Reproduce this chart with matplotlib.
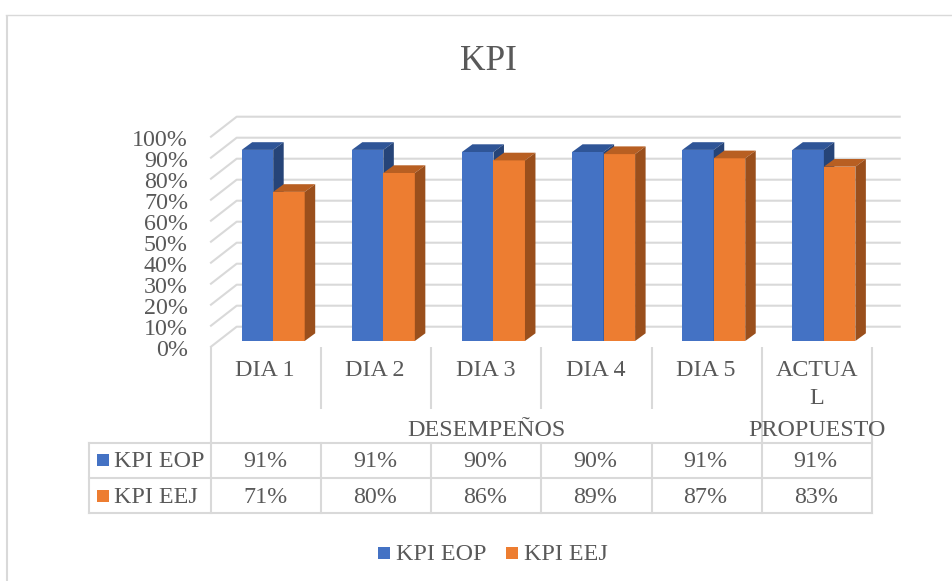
import matplotlib
matplotlib.use("Agg")
import matplotlib.pyplot as plt
from matplotlib.patches import Polygon, Rectangle

categories = ["DIA 1", "DIA 2", "DIA 3", "DIA 4", "DIA 5", "ACTUA\nL"]
groups = ["DESEMPEÑOS", "PROPUESTO"]
series_names = ["KPI EOP", "KPI EEJ"]
kpi_eop = [91, 91, 90, 90, 91, 91]
kpi_eej = [71, 80, 86, 89, 87, 83]
yticks = list(range(0, 101, 10))

W, H = 952, 581
plt.rcParams["font.family"] = ["Liberation Serif", "DejaVu Serif"]
TXT = "#595959"
GRID = "#D9D9D9"
BLUE, BLUE_TOP, BLUE_SIDE = "#4472C4", "#2F5597", "#264478"
ORG, ORG_TOP, ORG_SIDE = "#ED7D31", "#B85F22", "#9A4F1C"
FS = 17.3

fig = plt.figure(figsize=(W / 100, H / 100), dpi=100, facecolor="white")
# overlay in pixel coordinates for frame, table and legend
ov = fig.add_axes([0, 0, 1, 1], zorder=0)
ov.set_xlim(0, W); ov.set_ylim(H, 0); ov.axis("off")

L, R, B, T = 211.0, 871.8, 341.0, 131.0
ax = fig.add_axes([L / W, 1 - B / H, (R - L) / W, (B - T) / H], zorder=1)
ax.set_xlim(0, 6); ax.set_ylim(0, 100); ax.axis("off")
ux = (R - L) / 6; uy = (B - T) / 100

floor_front = -5.7 / uy      # the floor's front edge sits below the bars' base
wall_dx, wall_dy = 25.7 / ux, 14.3 / uy
bar_dx, bar_dy = 10.5 / ux, 7.7 / uy
wall_end = (899.7 - L) / ux
bar_w = 31.5 / ux
bar_off = 30.7 / ux

for v in yticks:
    ax.plot([0, wall_dx, wall_end], [v + floor_front, v + wall_dy, v + wall_dy], color=GRID, lw=1.5,
            clip_on=False, zorder=1, solid_joinstyle="round")
    ax.text(-23 / ux, v + floor_front - 9.3 / uy, f"{v}%", ha="right", va="baseline",
            fontsize=FS, color=TXT, clip_on=False)

def bar3d(x, v, front, top, side, z):
    ax.bar(x, v, bar_w, align="edge", color=front, zorder=z, clip_on=False)
    ax.add_patch(Polygon([(x, v), (x + bar_dx, v + bar_dy), (x + bar_w + bar_dx, v + bar_dy), (x + bar_w, v)],
                         closed=True, fc=top, ec="none", zorder=z, clip_on=False))
    ax.add_patch(Polygon([(x + bar_w, 0), (x + bar_w + bar_dx, bar_dy), (x + bar_w + bar_dx, v + bar_dy), (x + bar_w, v)],
                         closed=True, fc=side, ec="none", zorder=z, clip_on=False))

for i, (a, b) in enumerate(zip(kpi_eop, kpi_eej)):
    bar3d(i + bar_off, a, BLUE, BLUE_TOP, BLUE_SIDE, 3)
    bar3d(i + bar_off + bar_w, b, ORG, ORG_TOP, ORG_SIDE, 4)

def px(i):
    return L + i * ux

# axis label separators
for i in range(7):
    bottom = 442 if i in (0, 5, 6) else 408.5
    ov.plot([px(i)] * 2, [347, bottom], color=GRID, lw=1.5, solid_capstyle="butt")

# category labels
for i, c in enumerate(categories):
    for k, line in enumerate(c.split("\n")):
        ov.text(px(i) + ux / 2 - (0 if i == 5 else 1), 376 + 28.5 * k, line, ha="center", va="baseline",
                fontsize=FS, color=TXT)
ov.text(486, 436.5, groups[0], ha="center", va="baseline", fontsize=FS, color=TXT)
ov.text(817, 436.5, groups[1], ha="center", va="baseline", fontsize=FS, color=TXT)

# data table
rows_y = [442.5, 478, 513]
for y in rows_y:
    ov.plot([89, R], [y, y], color=GRID, lw=1.5)
ov.plot([89, 89], [rows_y[0], rows_y[2]], color=GRID, lw=1.5)
for i in range(7):
    ov.plot([px(i)] * 2, [rows_y[0], rows_y[2]], color=GRID, lw=1.5)
for r, (name, vals, col) in enumerate(zip(series_names, (kpi_eop, kpi_eej), (BLUE, ORG))):
    yc = (rows_y[r] + rows_y[r + 1]) / 2
    ov.add_patch(Rectangle((97, yc - 6), 12, 12, fc=col, ec="none"))
    ov.text(114.3, yc + 7.2, name, ha="left", va="baseline", fontsize=FS, color=TXT)
    for i, v in enumerate(vals):
        ov.text(px(i) + ux / 2 - 1, yc + 7.2, f"{v}%", ha="center", va="baseline", fontsize=FS, color=TXT)

# legend
for x, name, col in zip((378.3, 506), series_names, (BLUE, ORG)):
    ov.add_patch(Rectangle((x, 547), 12, 12, fc=col, ec="none"))
    ov.text(x + 17.5, 560, name, ha="left", va="baseline", fontsize=FS, color=TXT)

# title
ov.text(488.5, 69.5, "KPI", ha="center", va="baseline", fontsize=25.5, color=TXT)

# chart frame
ov.plot([7, 7], [H, 14.5], color=GRID, lw=1.5, solid_capstyle="butt")
ov.plot([6, W], [14.5, 14.5], color=GRID, lw=1)

fig.savefig("out.png", dpi=100, facecolor="white")
